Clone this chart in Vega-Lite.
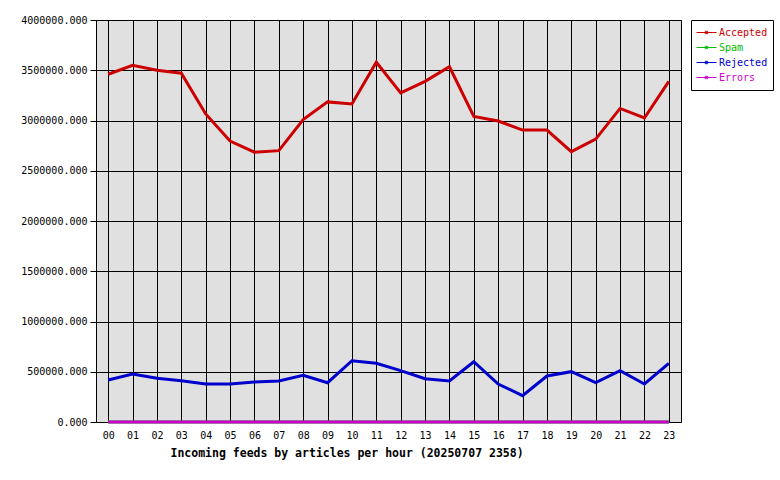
{
  "$schema": "https://vega.github.io/schema/vega-lite/v6.json",
  "width": 585,
  "height": 402,
  "autosize": {"type": "none"},
  "padding": {"left": 96, "top": 20, "right": 99, "bottom": 58},
  "background": "white",
  "config": {
    "font": "DejaVu Sans Mono",
    "view": {"fill": "#e0e0e0", "stroke": "black", "strokeWidth": 1},
    "axis": {"labelFont": "DejaVu Sans Mono", "labelFontSize": 10, "labelColor": "black", "gridColor": "black", "gridOpacity": 1, "gridWidth": 1, "tickColor": "black", "domain": false}
  },
  "data": {
    "values": [
      {"hour": "00", "series": "Accepted", "value": 3460000},
      {"hour": "01", "series": "Accepted", "value": 3550000},
      {"hour": "02", "series": "Accepted", "value": 3500000},
      {"hour": "03", "series": "Accepted", "value": 3470000},
      {"hour": "04", "series": "Accepted", "value": 3065000},
      {"hour": "05", "series": "Accepted", "value": 2795000},
      {"hour": "06", "series": "Accepted", "value": 2685000},
      {"hour": "07", "series": "Accepted", "value": 2700000},
      {"hour": "08", "series": "Accepted", "value": 3010000},
      {"hour": "09", "series": "Accepted", "value": 3185000},
      {"hour": "10", "series": "Accepted", "value": 3165000},
      {"hour": "11", "series": "Accepted", "value": 3580000},
      {"hour": "12", "series": "Accepted", "value": 3275000},
      {"hour": "13", "series": "Accepted", "value": 3390000},
      {"hour": "14", "series": "Accepted", "value": 3535000},
      {"hour": "15", "series": "Accepted", "value": 3040000},
      {"hour": "16", "series": "Accepted", "value": 2995000},
      {"hour": "17", "series": "Accepted", "value": 2905000},
      {"hour": "18", "series": "Accepted", "value": 2905000},
      {"hour": "19", "series": "Accepted", "value": 2690000},
      {"hour": "20", "series": "Accepted", "value": 2815000},
      {"hour": "21", "series": "Accepted", "value": 3120000},
      {"hour": "22", "series": "Accepted", "value": 3025000},
      {"hour": "23", "series": "Accepted", "value": 3390000},
      {"hour": "00", "series": "Spam", "value": 0},
      {"hour": "01", "series": "Spam", "value": 0},
      {"hour": "02", "series": "Spam", "value": 0},
      {"hour": "03", "series": "Spam", "value": 0},
      {"hour": "04", "series": "Spam", "value": 0},
      {"hour": "05", "series": "Spam", "value": 0},
      {"hour": "06", "series": "Spam", "value": 0},
      {"hour": "07", "series": "Spam", "value": 0},
      {"hour": "08", "series": "Spam", "value": 0},
      {"hour": "09", "series": "Spam", "value": 0},
      {"hour": "10", "series": "Spam", "value": 0},
      {"hour": "11", "series": "Spam", "value": 0},
      {"hour": "12", "series": "Spam", "value": 0},
      {"hour": "13", "series": "Spam", "value": 0},
      {"hour": "14", "series": "Spam", "value": 0},
      {"hour": "15", "series": "Spam", "value": 0},
      {"hour": "16", "series": "Spam", "value": 0},
      {"hour": "17", "series": "Spam", "value": 0},
      {"hour": "18", "series": "Spam", "value": 0},
      {"hour": "19", "series": "Spam", "value": 0},
      {"hour": "20", "series": "Spam", "value": 0},
      {"hour": "21", "series": "Spam", "value": 0},
      {"hour": "22", "series": "Spam", "value": 0},
      {"hour": "23", "series": "Spam", "value": 0},
      {"hour": "00", "series": "Rejected", "value": 418000},
      {"hour": "01", "series": "Rejected", "value": 478000},
      {"hour": "02", "series": "Rejected", "value": 435000},
      {"hour": "03", "series": "Rejected", "value": 411000},
      {"hour": "04", "series": "Rejected", "value": 378000},
      {"hour": "05", "series": "Rejected", "value": 378000},
      {"hour": "06", "series": "Rejected", "value": 398000},
      {"hour": "07", "series": "Rejected", "value": 408000},
      {"hour": "08", "series": "Rejected", "value": 464000},
      {"hour": "09", "series": "Rejected", "value": 391000},
      {"hour": "10", "series": "Rejected", "value": 610000},
      {"hour": "11", "series": "Rejected", "value": 584000},
      {"hour": "12", "series": "Rejected", "value": 511000},
      {"hour": "13", "series": "Rejected", "value": 431000},
      {"hour": "14", "series": "Rejected", "value": 408000},
      {"hour": "15", "series": "Rejected", "value": 600000},
      {"hour": "16", "series": "Rejected", "value": 378000},
      {"hour": "17", "series": "Rejected", "value": 262000},
      {"hour": "18", "series": "Rejected", "value": 458000},
      {"hour": "19", "series": "Rejected", "value": 501000},
      {"hour": "20", "series": "Rejected", "value": 391000},
      {"hour": "21", "series": "Rejected", "value": 511000},
      {"hour": "22", "series": "Rejected", "value": 378000},
      {"hour": "23", "series": "Rejected", "value": 584000},
      {"hour": "00", "series": "Errors", "value": 0},
      {"hour": "01", "series": "Errors", "value": 0},
      {"hour": "02", "series": "Errors", "value": 0},
      {"hour": "03", "series": "Errors", "value": 0},
      {"hour": "04", "series": "Errors", "value": 0},
      {"hour": "05", "series": "Errors", "value": 0},
      {"hour": "06", "series": "Errors", "value": 0},
      {"hour": "07", "series": "Errors", "value": 0},
      {"hour": "08", "series": "Errors", "value": 0},
      {"hour": "09", "series": "Errors", "value": 0},
      {"hour": "10", "series": "Errors", "value": 0},
      {"hour": "11", "series": "Errors", "value": 0},
      {"hour": "12", "series": "Errors", "value": 0},
      {"hour": "13", "series": "Errors", "value": 0},
      {"hour": "14", "series": "Errors", "value": 0},
      {"hour": "15", "series": "Errors", "value": 0},
      {"hour": "16", "series": "Errors", "value": 0},
      {"hour": "17", "series": "Errors", "value": 0},
      {"hour": "18", "series": "Errors", "value": 0},
      {"hour": "19", "series": "Errors", "value": 0},
      {"hour": "20", "series": "Errors", "value": 0},
      {"hour": "21", "series": "Errors", "value": 0},
      {"hour": "22", "series": "Errors", "value": 0},
      {"hour": "23", "series": "Errors", "value": 0}
    ]
  },
  "mark": {"type": "line", "strokeWidth": 3, "strokeJoin": "miter"},
  "encoding": {
    "x": {
      "field": "hour",
      "type": "ordinal",
      "scale": {"type": "point", "padding": 0.5},
      "axis": {
        "labelAngle": 0,
        "grid": true,
        "ticks": false,
        "labelPadding": 8,
        "title": "Incoming feeds by articles per hour (20250707 2358)",
        "titleFont": "DejaVu Sans Mono",
        "titleFontSize": 11.5,
        "titleFontWeight": "bold",
        "titleColor": "black",
        "titleAnchor": "start",
        "titleAlign": "left",
        "titleX": 74,
        "titleY": 34,
        "titleBaseline": "alphabetic"
      }
    },
    "y": {
      "field": "value",
      "type": "quantitative",
      "scale": {"domain": [0, 4000000], "nice": false},
      "axis": {
        "values": [0, 500000, 1000000, 1500000, 2000000, 2500000, 3000000, 3500000, 4000000],
        "format": ".3f",
        "grid": true,
        "ticks": true,
        "tickSize": 6,
        "labelPadding": 3,
        "title": null
      }
    },
    "color": {
      "field": "series",
      "type": "nominal",
      "sort": null,
      "scale": {"domain": ["Accepted", "Spam", "Rejected", "Errors"], "range": ["#cc0000", "#00bb00", "#0000cc", "#cc00cc"]},
      "legend": {
        "title": null,
        "orient": "none",
        "legendX": 595,
        "legendY": 0,
        "fillColor": "white",
        "strokeColor": "black",
        "padding": 5,
        "rowPadding": 0,
        "clipHeight": 15,
        "symbolType": "M-1,0H1M-0.12,-0.12H0.12V0.12H-0.12Z",
        "symbolSize": 400,
        "symbolStrokeWidth": 1,
        "symbolFillColor": "transparent",
        "labelFont": "DejaVu Sans Mono",
        "labelFontSize": 10,
        "labelOffset": 2,
        "encode": {"labels": {"update": {"fill": {"scale": "color", "field": "value"}}}}
      }
    }
  }
}
